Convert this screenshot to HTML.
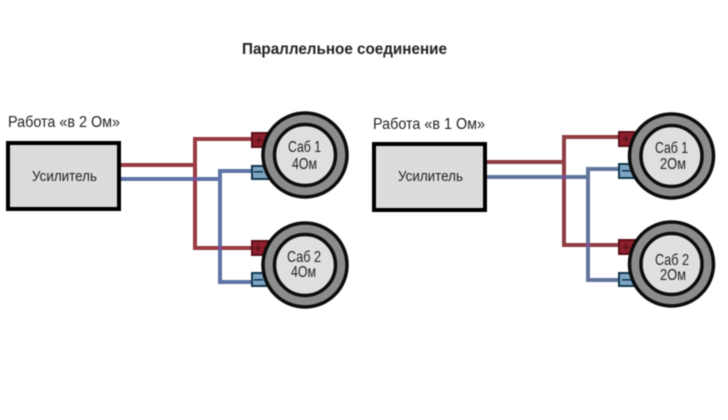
<!DOCTYPE html>
<html><head><meta charset="utf-8"><style>
html,body{margin:0;padding:0;background:#fff}
svg{display:block;filter:blur(0.4px)}
text{font-family:"Liberation Sans","DejaVu Sans",sans-serif;fill:#222}
</style></head><body>
<svg width="728" height="420" viewBox="0 0 728 420" xmlns="http://www.w3.org/2000/svg">
<rect width="728" height="420" fill="#fff"/>
<text x="242" y="54" font-size="15.500" font-weight="bold" fill="#111" textLength="205" lengthAdjust="spacingAndGlyphs">Параллельное соединение</text>

<!-- left -->
<text x="8" y="127" font-size="15.500" textLength="112" lengthAdjust="spacingAndGlyphs">Работа «в 2 Ом»</text>
<rect x="8" y="143" width="111" height="66" fill="#dcdcdc" stroke="#000" stroke-width="4"/>
<text x="32" y="181" font-size="15" textLength="65" lengthAdjust="spacingAndGlyphs">Усилитель</text>
<g fill="none" stroke-width="4">
<path d="M121 165H195M252 139H195V248H252" stroke="#9a3a42"/>
<path d="M121 179H220M252 171H220V282H252" stroke="#5e74a6" />
</g>
<rect x="193" y="177" width="4" height="4" fill="#7d4f94"/>
<rect x="218" y="246" width="4" height="4" fill="#7d4f94"/>

<g stroke-width="2">
<rect x="252" y="133" width="20" height="14" fill="#8e1f2c" stroke="#5c1018"/>
<rect x="252" y="241" width="20" height="14" fill="#8e1f2c" stroke="#5c1018"/>
<rect x="252" y="166" width="20" height="13" fill="#7ea6c4" stroke="#12384f"/>
<rect x="252" y="273" width="20" height="13" fill="#7ea6c4" stroke="#12384f"/>
</g>
<g stroke="#0c0c0c" stroke-width="3.500">
<circle cx="305" cy="155" r="42" fill="#8c8c8c"/><circle cx="305" cy="155" r="30.500" fill="#dfdfdf"/>
<circle cx="305" cy="265" r="42" fill="#8c8c8c"/><circle cx="305" cy="265" r="30.500" fill="#dfdfdf"/>
</g>
<g font-size="15" text-anchor="middle"><text x="259" y="145" style="fill:#4a1016">+</text><text x="258" y="253" style="fill:#4a1016">+</text></g>
<g fill="#12384f"><rect x="254" y="171" width="9" height="1.600"/><rect x="254" y="279" width="9" height="1.600"/></g>
<g font-size="15.500">
<text x="288" y="152" textLength="33" lengthAdjust="spacingAndGlyphs">Саб 1</text><text x="292" y="169" textLength="25" lengthAdjust="spacingAndGlyphs">4Ом</text>
<text x="287" y="262" textLength="34" lengthAdjust="spacingAndGlyphs">Саб 2</text><text x="291" y="277" textLength="25" lengthAdjust="spacingAndGlyphs">4Ом</text>
</g>

<!-- right -->
<text x="373" y="129" font-size="15.500" textLength="112" lengthAdjust="spacingAndGlyphs">Работа «в 1 Ом»</text>
<rect x="374" y="144" width="111" height="66" fill="#dcdcdc" stroke="#000" stroke-width="4"/>
<text x="398" y="181" font-size="15" textLength="65" lengthAdjust="spacingAndGlyphs">Усилитель</text>
<g fill="none" stroke-width="4">
<path d="M487 162H564M619 137H564V245H619" stroke="#8e3f44"/>
<path d="M487 177H588M619 169H588V280H619" stroke="#62769c"/>
</g>
<rect x="562" y="175" width="4" height="4" fill="#7d4f94"/>
<rect x="586" y="243" width="4" height="4" fill="#7d4f94"/>

<g stroke-width="2">
<rect x="619" y="132" width="20" height="14" fill="#8e1f2c" stroke="#5c1018"/>
<rect x="619" y="240" width="20" height="14" fill="#8e1f2c" stroke="#5c1018"/>
<rect x="619" y="164" width="20" height="14" fill="#7ea6c4" stroke="#12384f"/>
<rect x="619" y="273" width="20" height="13" fill="#7ea6c4" stroke="#12384f"/>
</g>
<g stroke="#0c0c0c" stroke-width="3.500">
<circle cx="671.500" cy="156" r="42" fill="#8c8c8c"/><circle cx="671.500" cy="156" r="30.500" fill="#dfdfdf"/>
<circle cx="671.500" cy="264" r="42" fill="#8c8c8c"/><circle cx="671.500" cy="264" r="30.500" fill="#dfdfdf"/>
</g>
<g font-size="15" text-anchor="middle"><text x="626" y="144" style="fill:#4a1016">+</text><text x="626" y="252" style="fill:#4a1016">+</text></g>
<g fill="#12384f"><rect x="622" y="170" width="9" height="1.600"/><rect x="622" y="279" width="9" height="1.600"/></g>
<g font-size="15.500">
<text x="655" y="153" textLength="33" lengthAdjust="spacingAndGlyphs">Саб 1</text><text x="660" y="169" textLength="26" lengthAdjust="spacingAndGlyphs">2Ом</text>
<text x="655" y="265" textLength="34" lengthAdjust="spacingAndGlyphs">Саб 2</text><text x="660" y="280" textLength="26" lengthAdjust="spacingAndGlyphs">2Ом</text>
</g>
</svg>
</body></html>
